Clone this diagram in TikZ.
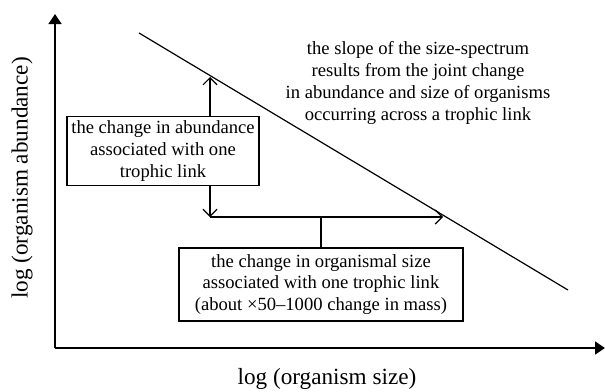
\documentclass[tikz,border=0pt]{standalone}
\usepackage{fontspec}
\setmainfont{Liberation Serif}
\usepackage{tikz}
\usetikzlibrary{arrows.meta,positioning,calc}
\tikzset{
  specbox/.style={draw, align=center, inner xsep=1.5pt, inner ysep=2pt, font=\fontsize{9.3}{10.9}\selectfont, fill=white, line width=0.6pt},
  spectext/.style={align=center, font=\fontsize{9.3}{10.9}\selectfont},
  axislabel/.style={font=\fontsize{11.6}{13}\selectfont},
  specaxis/.style={-{Triangle[length=5pt, width=6.5pt]}, line width=0.7pt},
  specline/.style={line width=0.6pt},
  dimarrow/.style={-{Straight Barb[length=3.5pt, width=7pt]}, line width=0.6pt}
}
\begin{document}
\begin{tikzpicture}[x=0.5pt, y=-0.5pt]
\useasboundingbox (0,0) rectangle (605,391);
\coordinate (origin) at (55,348);
\coordinate (ytip) at (55,14);
\coordinate (xtip) at (605,348);
\coordinate (slopestart) at (139,33);
\coordinate (slopeend) at (568,290);
\coordinate (vtop) at (210,77);
\coordinate (vbot) at (210,217);
\coordinate (hend) at (443,217);
\draw[specaxis] (origin) -- (ytip);
\draw[specaxis] (origin) -- (xtip);
\draw[specline] (slopestart) -- (slopeend);
\node[spectext] (slopenote) at (418,83) {the slope of the size-spectrum\\results from the joint change\\in abundance and size of organisms\\occurring across a trophic link};
\node[specbox, minimum width=96pt, minimum height=34pt] (abund) at (163,151) {the change in abundance\\associated with one\\trophic link};
\node[specbox, minimum width=142pt, minimum height=36.5pt] (size) at (321,284.5) {the change in organismal size\\associated with one trophic link\\(about ×50–1000 change in mass)};
\draw[dimarrow] (abund.north -| vtop) -- (vtop);
\draw[dimarrow] (abund.south -| vtop) -- (vbot);
\draw[dimarrow] (vbot) -- (hend);
\draw[specline] (size.north) -- (size.north |- vbot);
\node[axislabel] (xlabel) at (327,379) {log (organism size)};
\node[axislabel, rotate=90] (ylabel) at (22,178) {log (organism abundance)};
\end{tikzpicture}
\end{document}
